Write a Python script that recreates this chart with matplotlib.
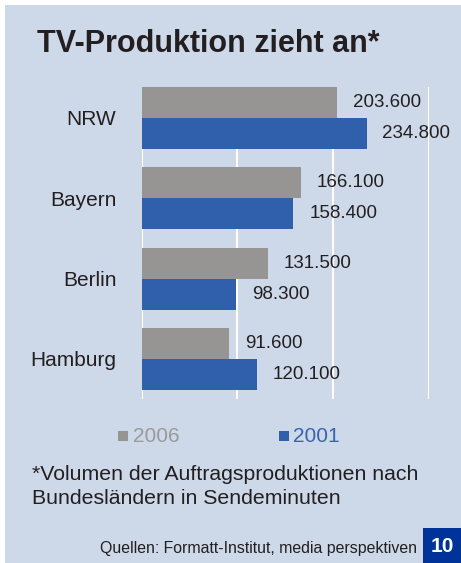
import numpy as np
import matplotlib.pyplot as plt
from matplotlib.patches import Rectangle

plt.rcParams['font.family'] = ['Liberation Sans', 'DejaVu Sans']

# data
laender = ['NRW', 'Bayern', 'Berlin', 'Hamburg']
werte_2006 = [203600, 166100, 131500, 91600]
werte_2001 = [234800, 158400, 98300, 120100]

bg = '#cdd8e9'
grau = '#969593'
blau = '#3060ab'
txt = '#231f20'

fig = plt.figure(figsize=(4.61, 5.63), dpi=100)
W, H = 461, 563
fig.patches.append(Rectangle((5 / W, 0), 1, 1 - 5 / H, transform=fig.transFigure,
                             facecolor=bg, edgecolor='none', zorder=-5))

ax = fig.add_axes([141.5 / W, 1 - 399 / H, 287.5 / W, 312 / H])
ax.set_facecolor(bg)
ax.set_zorder(2)

y = np.arange(len(laender))
h = 0.386
ax.barh(y - h / 2, werte_2006, height=h, color=grau, zorder=2)
ax.barh(y + h / 2, werte_2001, height=h, color=blau, zorder=2)

def fmt(v):
    return f'{v:,}'.replace(',', '.')

for yi, v in zip(y - h / 2, werte_2006):
    ax.annotate(fmt(v), (v, yi), xytext=(11.5, 0), textcoords='offset points',
                va='center', ha='left', fontsize=13.5, color=txt)
for yi, v in zip(y + h / 2, werte_2001):
    ax.annotate(fmt(v), (v, yi), xytext=(11.5, 0), textcoords='offset points',
                va='center', ha='left', fontsize=13.5, color=txt)

ax.set_xlim(0, 300000)
ax.set_ylim(3.5, -0.386)
ax.set_xticks([0, 100000, 200000, 300000])
ax.set_xticklabels([])
ax.grid(axis='x', color='white', linewidth=1.5, zorder=1)
ax.set_axisbelow(True)
ax.set_yticks(y)
ax.set_yticklabels(laender, fontsize=15, color=txt)
ax.tick_params(length=0, pad=18)
for s in ax.spines.values():
    s.set_visible(False)

# title
fig.text(37 / W, 1 - 44 / H, 'TV-Produktion zieht an*', fontsize=22, fontweight='bold',
         color=txt, va='center', ha='left')

# legend
fig.patches.append(Rectangle((118 / W, 1 - 441 / H), 10 / W, 10 / H,
                             transform=fig.transFigure, facecolor=grau, edgecolor='none'))
fig.text(133 / W, 1 - 436 / H, '2006', fontsize=15, color='#9a9a9a', va='center')
fig.patches.append(Rectangle((279 / W, 1 - 441 / H), 10 / W, 10 / H,
                             transform=fig.transFigure, facecolor=blau, edgecolor='none'))
fig.text(293 / W, 1 - 436 / H, '2001', fontsize=15, color='#3a63ad', va='center')

# footnote
fig.text(32 / W, 1 - 475 / H, '*Volumen der Auftragsproduktionen nach', fontsize=15.3,
         color=txt, va='center')
fig.text(32 / W, 1 - 498 / H, 'Bundesländern in Sendeminuten', fontsize=15.3,
         color=txt, va='center')

# source
fig.text(417 / W, 1 - 548 / H, 'Quellen: Formatt-Institut, media perspektiven', fontsize=11.4,
         color=txt, va='center', ha='right')
fig.patches.append(Rectangle((423 / W, 0), 1, 35 / H, transform=fig.transFigure,
                             facecolor='#003399', edgecolor='none'))
fig.text(442 / W, 1 - 546 / H, '10', fontsize=15, fontweight='bold', color='white',
         va='center', ha='center')

fig.savefig('out.png', dpi=100)
